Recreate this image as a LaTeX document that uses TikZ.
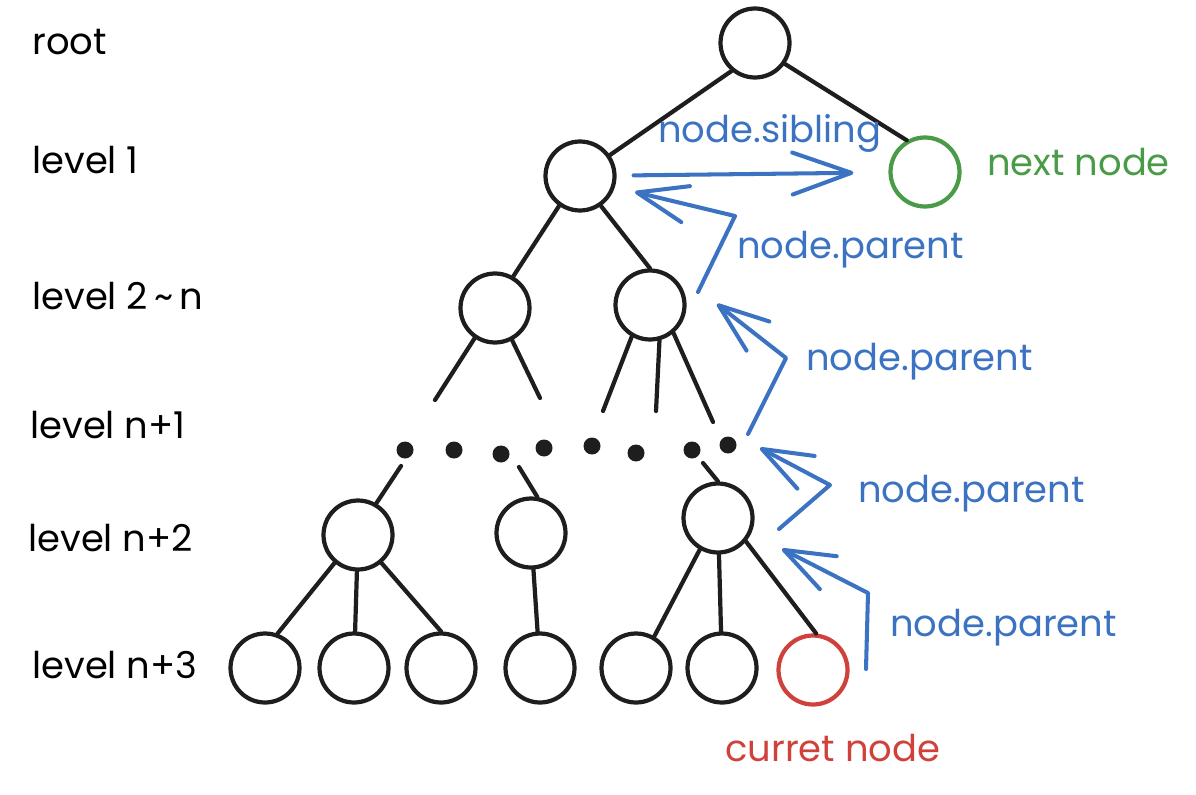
\documentclass[tikz,border=0pt]{standalone}
\usepackage{fontspec}
\setmainfont{Poppins}
\usetikzlibrary{arrows.meta}
\definecolor{ink}{HTML}{1E1E1E}
\definecolor{linkblue}{HTML}{3B73C2}
\definecolor{nextgreen}{HTML}{4A9B47}
\definecolor{curred}{HTML}{D1413C}
\begin{document}
\begin{tikzpicture}[x = 0.02cm, y = -0.02cm,
        tn/.style = {circle, draw = ink, line width = 2.4pt, minimum size = 1.38cm, inner sep = 0pt},
        dot/.style = {circle, fill = ink, minimum size = 0.34cm, inner sep = 0pt},
        lbl/.style = {anchor = west, inner sep = 0pt, font = \fontsize{21}{24}\selectfont},
        edge/.style = {draw = ink, line width = 2.4pt, line cap = round},
        ptr/.style = {draw = linkblue, line width = 2.3pt, line cap = round, line join = round,
            -{Straight Barb[length = 1cm, width = 0.74cm, round]}}]
    \useasboundingbox (0, 0) rectangle (1196, 794);
    % level names
    \path
        node[lbl] (Lr) at (32, 42) {root}
        node[lbl] (L1) at (32, 160) {level 1}
        node[lbl] (L2) at (32, 296) {level 2\,\textasciitilde\,n}
        node[lbl] (L3) at (30, 425) {level n+1}
        node[lbl] (L4) at (28, 538) {level n+2}
        node[lbl] (L5) at (32, 665) {level n+3};
    % tree
    \path
        node[tn] (R) at (755, 43) {}
        node[tn] (A) at (580, 176) {}
        node[tn, draw = nextgreen] (N) at (925, 172) {}
        node[tn] (B) at (495, 308) {}
        node[tn] (C) at (650, 305) {}
        node[tn] (D1) at (358, 535) {}
        node[tn] (D2) at (531, 533) {}
        node[tn] (D3) at (718, 518) {}
        node[tn] (E1) at (265, 668) {}
        node[tn] (E2) at (354, 668) {}
        node[tn] (E3) at (441, 668) {}
        node[tn] (E4) at (540, 668) {}
        node[tn] (E5) at (636, 668) {}
        node[tn] (E6) at (722, 668) {}
        node[tn, draw = curred] (E7) at (813, 670) {};
    % the elided levels
    \path
        node[dot] (d1) at (405, 450) {}
        node[dot] (d2) at (454, 450) {}
        node[dot] (d3) at (501, 454) {}
        node[dot] (d4) at (544, 448) {}
        node[dot] (d5) at (592, 446) {}
        node[dot] (d6) at (636, 453) {}
        node[dot] (d7) at (692, 450) {}
        node[dot] (d8) at (728, 445) {};
    \coordinate (b1) at (435, 400);
    \coordinate (b2) at (540, 398);
    \coordinate (c1) at (603, 411);
    \coordinate (c2) at (656, 411);
    \coordinate (c3) at (713, 422);
    \coordinate (e1) at (401, 466);
    \coordinate (e2) at (519, 467);
    \coordinate (e3) at (703, 463);
    \path[edge]
        (R.-130) -- (A.35)
        (R.-35) -- (N.120)
        (A.-125) -- (B.60)
        (A.-55) -- (C.north)
        (B.-124) -- (b1)
        (B.-62) -- (b2)
        (C.-120) -- (c1)
        (C.-75) -- (c2)
        (C.-50) -- (c3)
        (e1) -- (D1.60)
        (e2) -- (D2.80)
        (e3) -- (D3.north)
        (D1.-130) -- (E1.70)
        (D1) -- (E2)
        (D1.-50) -- (E3.north)
        (D2) -- (E4)
        (D3.-120) -- (E5.60)
        (D3) -- (E6)
        (D3.-40) -- (E7.85);
    % pointers
    \coordinate (t1) at (698, 292);
    \coordinate (k1) at (735, 216);
    \coordinate (h1) at (635, 192);
    \coordinate (t2) at (748, 434);
    \coordinate (k2) at (786, 358);
    \coordinate (h2) at (717, 304);
    \coordinate (t3) at (779, 529);
    \coordinate (k3) at (830, 485);
    \coordinate (h3) at (760, 448);
    \coordinate (t4) at (866, 669);
    \coordinate (k4) at (868, 593);
    \coordinate (h4) at (782, 549);
    \draw[ptr, -{Straight Barb[length = 1.18cm, width = 0.84cm, round]}, shorten <= 0.34cm, shorten >= 0.7cm] (A) -- (N);
    \draw[ptr] (t1) -- (k1) -- (h1);
    \draw[ptr] (t2) -- (k2) -- (h2);
    \draw[ptr] (t3) -- (k3) -- (h3);
    \draw[ptr] (t4) -- (k4) -- (h4);
    \path
        node[lbl, text = linkblue] (s) at (658, 133) {node.sibling}
        node[lbl, text = linkblue] (p1) at (737, 250) {node.parent}
        node[lbl, text = linkblue] (p2) at (806, 362) {node.parent}
        node[lbl, text = linkblue] (p3) at (858, 494) {node.parent}
        node[lbl, text = linkblue] (p4) at (890, 628) {node.parent};
    \path
        node[lbl, text = nextgreen] (nx) at (987, 162) {next node}
        node[lbl, text = curred] (cu) at (725, 748) {curret node};
\end{tikzpicture}
\end{document}
